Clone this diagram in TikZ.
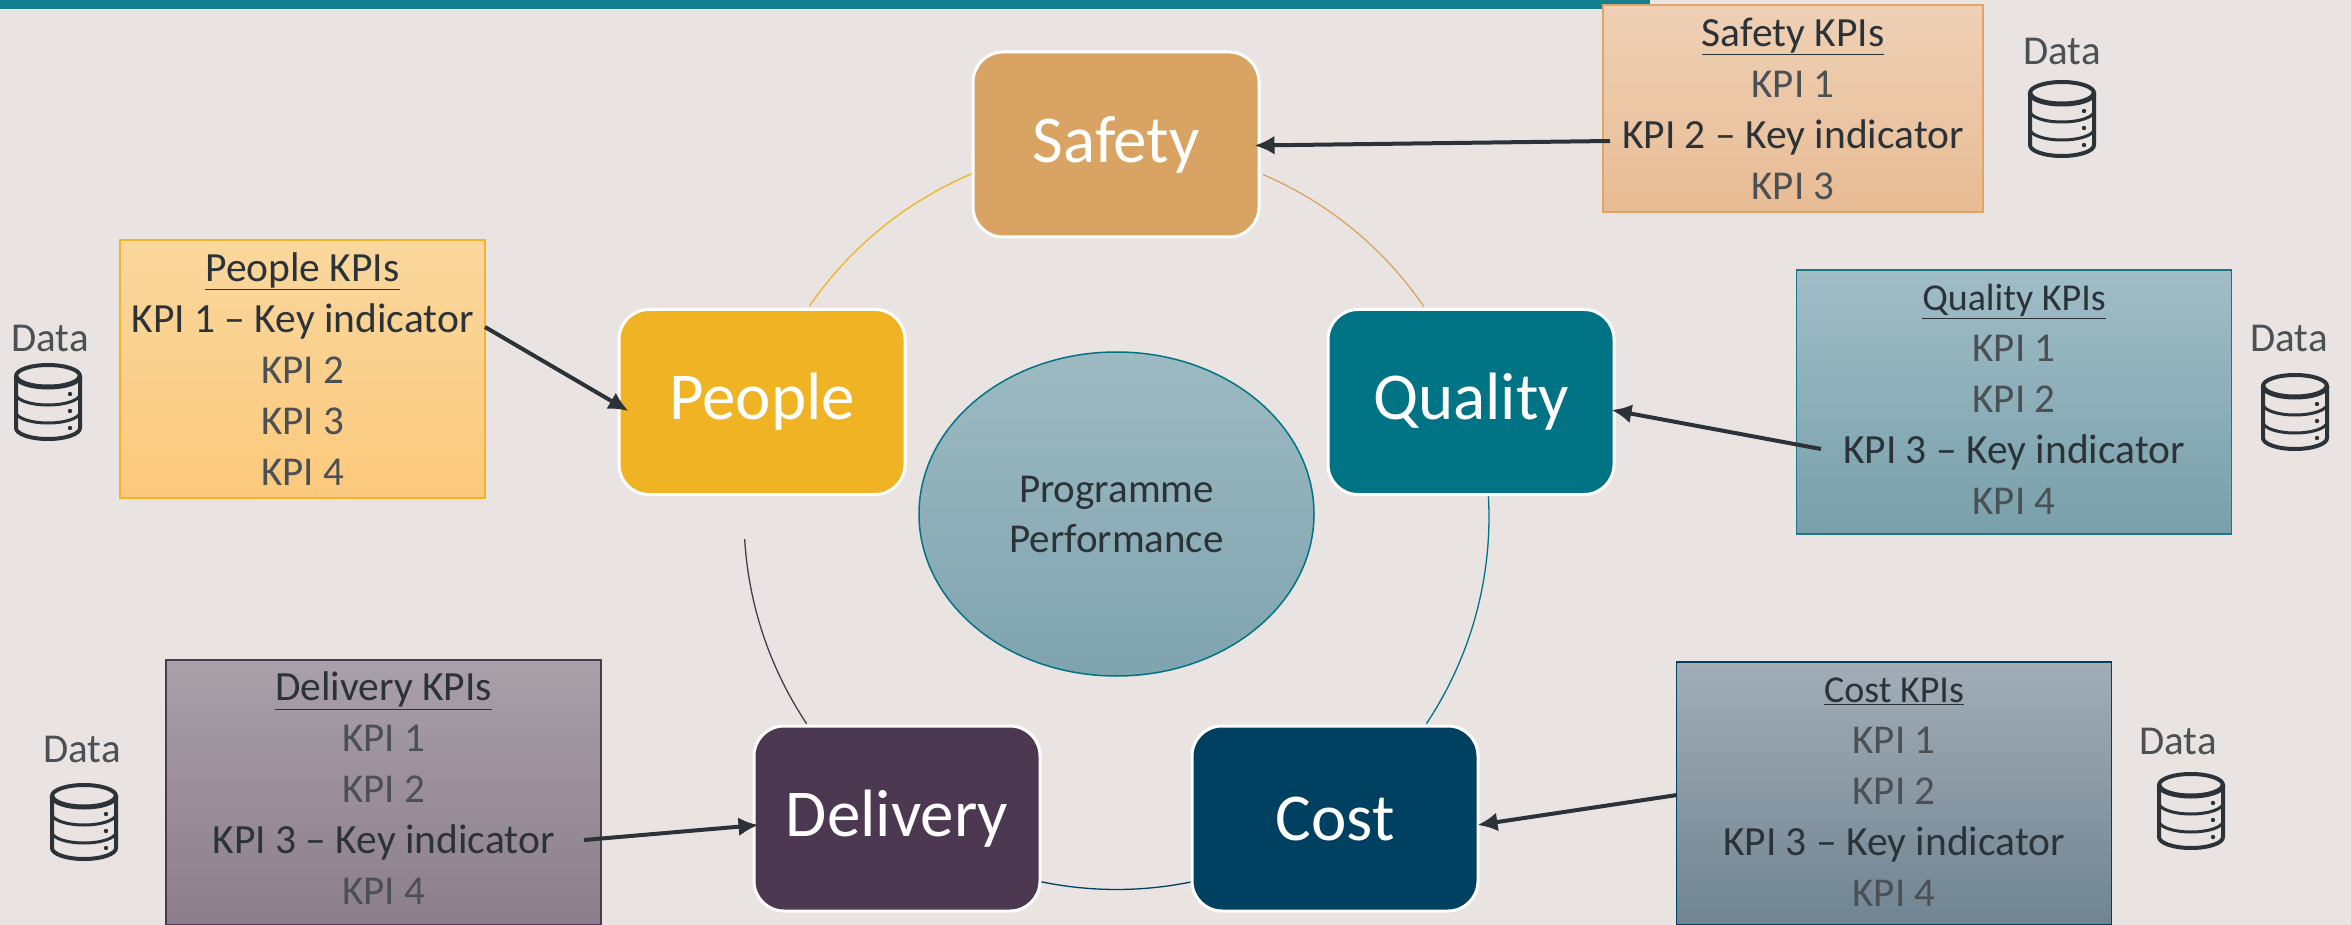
\documentclass[tikz,border=0pt]{standalone}
\usepackage{fontspec}
\setmainfont{Carlito}
\usetikzlibrary{arrows.meta,shapes.geometric}
\definecolor{bgc}{HTML}{E9E4E1}
\definecolor{ink}{HTML}{2B3238}
\definecolor{inkl}{HTML}{4A5054}
\definecolor{band}{HTML}{127F8E}
\definecolor{csafety}{HTML}{D9A364}
\definecolor{cpeople}{HTML}{F0B323}
\definecolor{cquality}{HTML}{007385}
\definecolor{cdelivery}{HTML}{4C3850}
\definecolor{ccost}{HTML}{004060}
\definecolor{ellt}{HTML}{9DBAC2}
\definecolor{ellb}{HTML}{7FA4AF}
\definecolor{st}{HTML}{EFD0B5}
\definecolor{sb}{HTML}{E8BC94}
\definecolor{sd}{HTML}{E0A468}
\definecolor{pt}{HTML}{FAD79D}
\definecolor{pb}{HTML}{FBC97C}
\definecolor{pd}{HTML}{F3B42A}
\definecolor{qt}{HTML}{A0BDC6}
\definecolor{qb}{HTML}{78A0AB}
\definecolor{qd}{HTML}{1F7585}
\definecolor{dt}{HTML}{A9A0A8}
\definecolor{db}{HTML}{8B7E8A}
\definecolor{ct}{HTML}{A2ADB6}
\definecolor{cb}{HTML}{708492}
\newcommand{\kt}[2][41.5]{{\fontsize{#1}{51}\selectfont\color{ink}\underline{#2}}}
\newcommand{\kl}[1]{{\fontsize{41}{51}\selectfont\color{inkl}#1}}
\newcommand{\kk}[1]{{\fontsize{41.5}{51}\selectfont\color{ink}#1}}
\tikzset{
  x=1pt,y=1pt,
  pillar/.style={draw=white,line width=3pt,rounded corners=30pt,text=white,font=\fontsize{67}{80}\selectfont,minimum width=286pt,minimum height=185pt,inner sep=0pt},
  kpibox/.style={line width=1.5pt,inner sep=0pt},
  kpitext/.style={align=center,inner sep=0pt,font=\fontsize{41}{51}\selectfont},
  ringarc/.style={line width=1.3pt},
  conn/.style={draw=ink,line width=4pt,-{Latex[length=20pt,width=19pt]}},
  datalabel/.style={font=\fontsize{41}{44}\selectfont,text=inkl,inner sep=0pt},
  pics/dbicon/.style={code={
    \begin{scope}[draw=ink,line width=4pt]
      \draw (-32,26) arc (180:0:32 and 11) -- (32,-26) arc (0:-180:32 and 11) -- cycle;
      \draw[line width=5pt] (-32,26) arc (180:360:32 and 11);
      \draw[line width=3pt] (-32,8) arc (180:360:32 and 11);
      \draw[line width=3pt] (-32,-10) arc (180:360:32 and 11);
      \fill[ink] (22,8) circle (2.2) (22,-9) circle (2.2) (22,-26) circle (2.2);
    \end{scope}
  }}
}
\begin{document}
\begin{tikzpicture}
\useasboundingbox (0,0) rectangle (2351,-925);
\fill[bgc] (0,0) rectangle (2351,-925);
\fill[band] (0,0) rectangle (1650,-9);

\coordinate (ringc) at (1116.5,-517);
\draw[ringarc,draw=cpeople] ([shift={(145.5:372.5pt)}]ringc) arc (145.5:112.7:372.5pt);
\draw[ringarc,draw=csafety] ([shift={(66.8:372.5pt)}]ringc) arc (66.8:34.4:372.5pt);
\draw[ringarc,draw=cquality] ([shift={(3.4:372.5pt)}]ringc) arc (3.4:-33.7:372.5pt);
\draw[ringarc,draw=ccost] ([shift={(-78.3:372.5pt)}]ringc) arc (-78.3:-101.7:372.5pt);
\draw[ringarc,draw=cdelivery] ([shift={(-146.3:372.5pt)}]ringc) arc (-146.3:-176.6:372.5pt);

\node[ellipse,draw=cquality,line width=1.5pt,top color=ellt,bottom color=ellb,minimum width=395pt,minimum height=324pt,inner sep=0pt,align=center,text=ink,font=\fontsize{41}{50}\selectfont] (prog) at (1116.5,-514) {\raisebox{-1pt}{Programme}\\\raisebox{-1pt}{Performance}};

\node[pillar,fill=csafety] (safety) at (1116,-144.5) {\raisebox{-5pt}{Safety}};
\node[pillar,fill=cpeople] (people) at (762,-402) {\raisebox{-4pt}{People}};
\node[pillar,fill=cquality] (quality) at (1471,-402) {\raisebox{-4pt}{Quality}};
\node[pillar,fill=cdelivery] (delivery) at (897,-818.5) {\raisebox{-3pt}{Delivery}};
\node[pillar,fill=ccost] (cost) at (1335,-818.5) {\raisebox{-2pt}{Cost}};

\node[kpibox,draw=sd,top color=st,bottom color=sb,minimum width=380pt,minimum height=207pt] (ksafety) at (1793,-108.5) {};
\node[kpibox,draw=pd,top color=pt,bottom color=pb,minimum width=365pt,minimum height=258pt] (kpeople) at (302.5,-369) {};
\node[kpibox,draw=qd,top color=qt,bottom color=qb,minimum width=435pt,minimum height=264pt] (kquality) at (2014,-402) {};
\node[kpibox,draw=cdelivery,top color=dt,bottom color=db,minimum width=435pt,minimum height=265pt] (kdelivery) at (383.5,-792.5) {};
\node[kpibox,draw=ccost,top color=ct,bottom color=cb,minimum width=435pt,minimum height=263pt] (kcost) at (1894,-793.5) {};

\node[kpitext] (tsafety) at (1793,-108.5) {\kt{Safety KPIs}\\\kl{KPI 1}\\\kk{KPI 2 – Key indicator}\\\kl{KPI 3}};
\node[kpitext] (tpeople) at (302.5,-369) {\kt{People KPIs}\\\kk{KPI 1 – Key indicator}\\\kl{KPI 2}\\\kl{KPI 3}\\\kl{KPI 4}};
\node[kpitext] (tquality) at (2014,-399) {\kt[38]{Quality KPIs}\\\kl{KPI 1}\\\kl{KPI 2}\\\kk{KPI 3 – Key indicator}\\\kl{KPI 4}};
\node[kpitext] (tdelivery) at (383.5,-788.5) {\kt{Delivery KPIs}\\\kl{KPI 1}\\\kl{KPI 2}\\\kk{KPI 3 – Key indicator}\\\kl{KPI 4}};
\node[kpitext] (tcost) at (1894,-792) {\kt[38]{Cost KPIs}\\\kl{KPI 1}\\\kl{KPI 2}\\\kk{KPI 3 – Key indicator}\\\kl{KPI 4}};

\coordinate (asafety) at (1610,-141);
\coordinate (apeople) at (485,-327);
\coordinate (aquality) at (1821,-449);
\coordinate (adelivery) at (584,-840);
\coordinate (acost) at (1677,-795);
\draw[conn] (asafety) -- ([xshift=-6pt,yshift=-1pt]safety.east);
\draw[conn] (apeople) -- ([xshift=11pt,yshift=-9pt]people.west);
\draw[conn] (aquality) -- ([xshift=-4pt,yshift=-8pt]quality.east);
\draw[conn] (adelivery) -- ([xshift=6pt,yshift=-6.5pt]delivery.west);
\draw[conn] (acost) -- ([xshift=-2pt,yshift=-6.5pt]cost.east);

\node[datalabel] (dsafety) at (2062,-52) {Data};
\node[datalabel] (dpeople) at (50,-338) {Data};
\node[datalabel] (dquality) at (2289,-338) {Data};
\node[datalabel] (ddelivery) at (82,-749) {Data};
\node[datalabel] (dcost) at (2178,-741) {Data};
\pic at (2062,-119) {dbicon};
\pic at (48,-402) {dbicon};
\pic at (2295,-412) {dbicon};
\pic at (84,-822) {dbicon};
\pic at (2191,-811) {dbicon};
\end{tikzpicture}
\end{document}
